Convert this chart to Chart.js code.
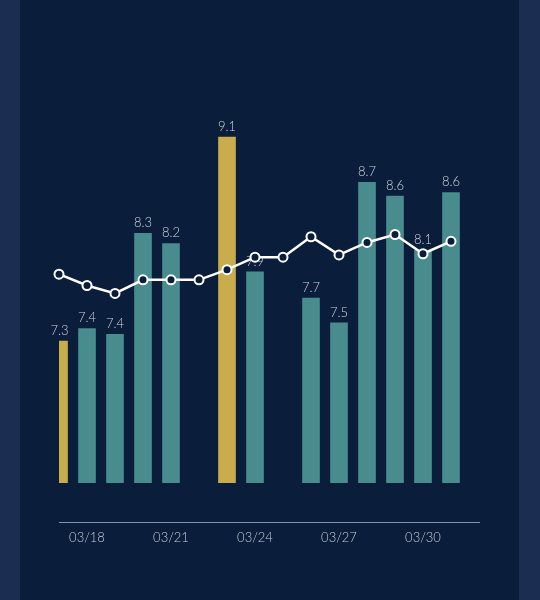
<!DOCTYPE html>
<html>
<head>
<meta charset="utf-8">
<script src="https://cdn.jsdelivr.net/npm/chart.js@4.4.0/dist/chart.umd.min.js"></script>
<style>
  html,body{margin:0;padding:0;background:#1b2e52;}
  #wrap{position:absolute;left:20px;top:0;width:499px;height:600px;background:#0a1d3b;}
  canvas{display:block;}
</style>
</head>
<body>
<div id="wrap"><canvas id="chartCombo" width="499" height="600"></canvas></div>
<script>
// data
const days=['03/17','03/18','03/19','03/20','03/21','03/22','03/23','03/24','03/25','03/26','03/27','03/28','03/29','03/30','03/31','04/01'];
const barValues=[7.30,7.41,7.36,8.25,8.16,null,9.10,7.91,null,7.68,7.46,8.70,8.58,8.10,8.61,null];
const barText=['7.3','7.4','7.4','8.3','8.2','','9.1','7.9','','7.7','7.5','8.7','8.6','8.1','8.6',''];
const highlight=[true,false,false,false,false,false,true,false,false,false,false,false,false,false,false,false];
const lineValues=[7.89,7.79,7.72,7.84,7.84,7.84,7.93,8.04,8.04,8.22,8.06,8.17,8.24,8.07,8.18,null];
const shownTicks=['03/18','03/21','03/24','03/27','03/30'];

const gold='#c9ac4c';
const teal='#488c8d';

// value labels above bars, drawn before the line
const barLabels={
  id:'barLabels',
  afterDatasetDraw(chart,args){
    if(args.index!==1) return;
    const ctx=chart.ctx;
    ctx.save();
    ctx.font='300 13px Lato, "Open Sans", sans-serif';
    ctx.fillStyle='#cdd3dd';
    ctx.textAlign='center';
    ctx.textBaseline='bottom';
    args.meta.data.forEach((bar,i)=>{
      if(barValues[i]==null) return;
      let x=bar.x;
      if(i===0) x=chart.chartArea.left+0.5;
      ctx.fillText(barText[i],x,bar.y-4);
    });
    ctx.restore();
  }
};

let chartCombo=new Chart(document.getElementById('chartCombo'),{
  type:'bar',
  data:{
    labels:days,
    datasets:[
      {
        type:'line',
        data:lineValues,
        order:0,
        borderColor:'#ffffff',
        borderWidth:2.5,
        pointRadius:4.5,
        pointBorderWidth:2,
        pointBackgroundColor:'#0a1d3b',
        pointBorderColor:'#ffffff',
        tension:0,
        spanGaps:false
      },
      {
        type:'bar',
        data:barValues,
        order:1,
        base:6.05,
        clip:0,
        barThickness:17,
        backgroundColor:highlight.map(h=>h?gold:teal)
      }
    ]
  },
  options:{
    responsive:false,
    animation:false,
    layout:{padding:{left:39,right:40,top:35,bottom:54}},
    plugins:{legend:{display:false},tooltip:{enabled:false}},
    scales:{
      x:{
        offset:false,
        grid:{display:false},
        border:{display:true,color:'#8a94a8',width:1},
        ticks:{
          autoSkip:false,
          maxRotation:0,
          padding:0,
          color:'#c4cad6',
          font:{family:'Lato, "Open Sans", sans-serif',size:13,weight:300},
          callback:function(val){const l=this.getLabelForValue(val);return shownTicks.includes(l)?l:'';}
        }
      },
      y:{display:false,min:5.7,max:10}
    }
  },
  plugins:[barLabels]
});
</script>
</body>
</html>
